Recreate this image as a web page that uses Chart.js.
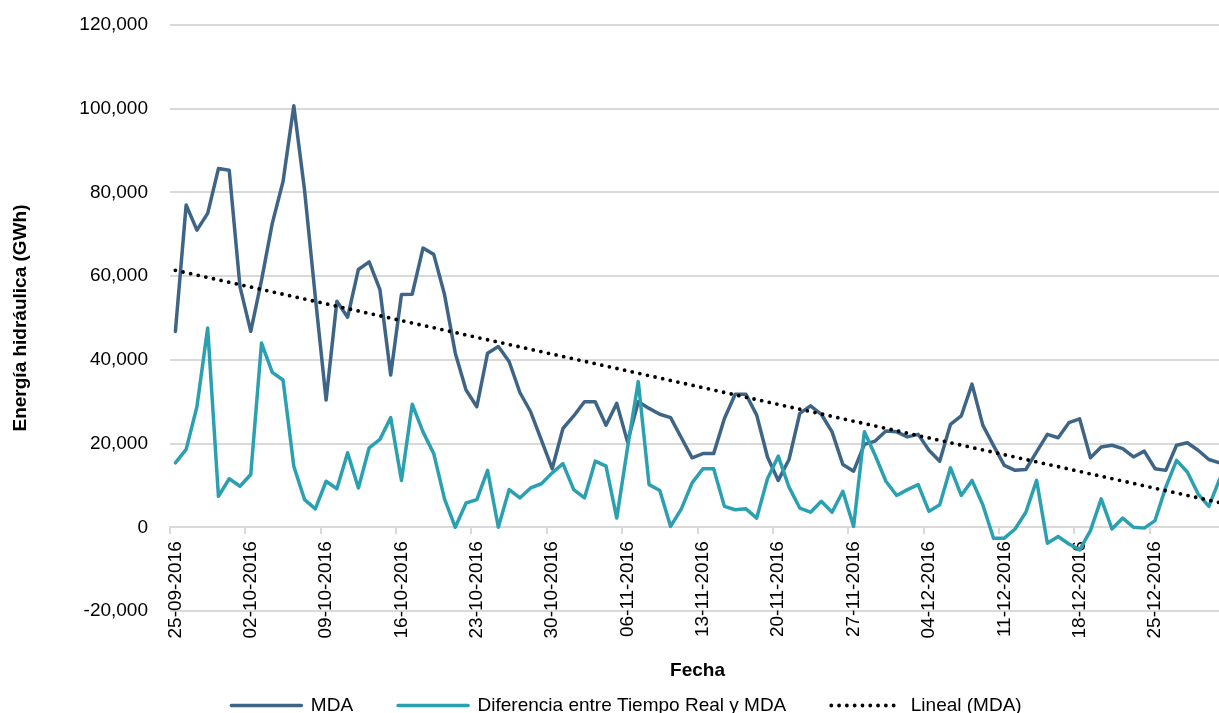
<!DOCTYPE html>
<html>
<head>
<meta charset="utf-8">
<script src="https://cdn.jsdelivr.net/npm/chart.js@4.4.1/dist/chart.umd.min.js"></script>
<style>
  html, body { margin: 0; padding: 0; background: #ffffff; overflow: hidden; }
  #wrap { position: relative; width: 1225px; height: 725px; }
</style>
</head>
<body>
<div id="wrap"><canvas id="c" width="1225" height="725"></canvas></div>
<script>
// ---------- data ----------
const categories = [
  '25-09-2016','26-09-2016','27-09-2016','28-09-2016','29-09-2016','30-09-2016',
  '01-10-2016','02-10-2016','03-10-2016','04-10-2016','05-10-2016','06-10-2016','07-10-2016','08-10-2016','09-10-2016','10-10-2016',
  '11-10-2016','12-10-2016','13-10-2016','14-10-2016','15-10-2016','16-10-2016','17-10-2016','18-10-2016','19-10-2016','20-10-2016',
  '21-10-2016','22-10-2016','23-10-2016','24-10-2016','25-10-2016','26-10-2016','27-10-2016','28-10-2016','29-10-2016','30-10-2016','31-10-2016',
  '01-11-2016','02-11-2016','03-11-2016','04-11-2016','05-11-2016','06-11-2016','07-11-2016','08-11-2016','09-11-2016','10-11-2016',
  '11-11-2016','12-11-2016','13-11-2016','14-11-2016','15-11-2016','16-11-2016','17-11-2016','18-11-2016','19-11-2016','20-11-2016',
  '21-11-2016','22-11-2016','23-11-2016','24-11-2016','25-11-2016','26-11-2016','27-11-2016','28-11-2016','29-11-2016','30-11-2016',
  '01-12-2016','02-12-2016','03-12-2016','04-12-2016','05-12-2016','06-12-2016','07-12-2016','08-12-2016','09-12-2016','10-12-2016',
  '11-12-2016','12-12-2016','13-12-2016','14-12-2016','15-12-2016','16-12-2016','17-12-2016','18-12-2016','19-12-2016','20-12-2016',
  '21-12-2016','22-12-2016','23-12-2016','24-12-2016','25-12-2016','26-12-2016','27-12-2016','28-12-2016','29-12-2016','30-12-2016','31-12-2016'
];

const mdaValues = [
  46800, 77000, 71000, 75000, 85700, 85300, 57500, 46800, 59000, 72600,
  82600, 100700, 80500, 55000, 30400, 54000, 50200, 61600, 63400, 56800,
  36400, 55600, 55700, 66700, 65200, 55600, 41600, 32800, 28800, 41600,
  43200, 39600, 32200, 27600, 20800, 14000, 23600, 26600, 30000, 30000,
  24400, 29600, 20400, 30000, 28400, 27000, 26200, 21400, 16600, 17600,
  17600, 26000, 31800, 31800, 26800, 16800, 11200, 16200, 27200, 29000,
  27000, 22800, 15000, 13400, 19800, 20600, 23000, 22800, 21600, 22200,
  18400, 15800, 24600, 26600, 34200, 24400, 19500, 14800, 13600, 13800,
  18000, 22200, 21400, 25000, 25900, 16600, 19200, 19600, 18800, 16800,
  18200, 14000, 13600, 19600, 20200, 18400, 16200, 15400
];

const diffValues = [
  15400, 18600, 28800, 47600, 7400, 11600, 9800, 12600, 44000, 37000,
  35200, 14600, 6600, 4400, 11000, 9200, 17800, 9400, 19000, 21000,
  26200, 11200, 29400, 22800, 17600, 6800, 0, 5800, 6600, 13600,
  0, 9000, 7000, 9400, 10400, 13000, 15200, 9000, 7000, 15800,
  14600, 2200, 19000, 34800, 10200, 8800, 200, 4400, 10600, 14000,
  14000, 5000, 4200, 4400, 2200, 11600, 17000, 9600, 4600, 3600,
  6200, 3600, 8600, 200, 22800, 17200, 11000, 7600, 9000, 10200,
  3800, 5400, 14200, 7600, 11200, 5400, -2600, -2600, -400, 3600,
  11200, -3800, -2200, -4000, -5400, -800, 6800, -400, 2200, 0,
  -200, 1600, 9600, 16000, 13200, 8000, 5000, 11500
];

// trend line (Lineal MDA): values read at first and last date
const trendStart = 61400;
const trendEnd = 5900;

const yTicks = { min: -20000, max: 120000, step: 20000 };
const seriesNames = ['MDA', 'Diferencia entre Tiempo Real y MDA', 'Lineal (MDA)'];
const axisTitles = { x: 'Fecha', y: 'Energía hidráulica (GWh)' };
const labelEvery = 7;

// ---------- font selection ----------
function fontAvailable(name) {
  const ctx = document.createElement('canvas').getContext('2d');
  const s = 'abcdefghijklmnopqrstuvwxyz 0123456789 ABCDEFGHIJ';
  return ['monospace', 'serif'].some(fb => {
    ctx.font = '40px ' + fb; const a = ctx.measureText(s).width;
    ctx.font = '40px "' + name + '", ' + fb; const b = ctx.measureText(s).width;
    return Math.abs(a - b) > 0.5;
  });
}
const candidates = ['Liberation Sans Narrow', 'Arial Narrow', 'Nimbus Sans Narrow', 'Liberation Sans'];
let family = 'Liberation Sans';
for (const f of candidates) { if (fontAvailable(f)) { family = f; break; } }
const narrow = /Narrow/.test(family);
const fs = narrow ? 23 : 19;
const fontStack = '"' + family + '", "Liberation Sans", Arial, sans-serif';

Chart.defaults.font.family = fontStack;
Chart.defaults.color = '#000000';

// ---------- layout constants ----------
const canvasH = 725;
const plotBottom = 611;          // pixel of the lowest gridline
const legendPad = 45;
const legendH = fs + legendPad + 10;
const xTitleCenter = 671;

// ---------- chart ----------
const trendData = categories.map((_, i) => i === 0 ? trendStart : (i === categories.length - 1 ? trendEnd : null));
const gridGrey = '#d9d9d9';
const zeroPad = s => { s.paddingLeft = 0; s.paddingRight = 0; s.paddingTop = 0; s.paddingBottom = 0; };

new Chart(document.getElementById('c'), {
  type: 'line',
  data: {
    labels: categories,
    datasets: [
      {
        label: seriesNames[0], data: mdaValues,
        borderColor: '#3e6585', backgroundColor: '#3e6585',
        borderWidth: 3.5, pointRadius: 0, tension: 0,
        borderJoinStyle: 'round', borderCapStyle: 'round', order: 2
      },
      {
        label: seriesNames[1], data: diffValues,
        borderColor: '#2ba0b0', backgroundColor: '#2ba0b0',
        borderWidth: 3.5, pointRadius: 0, tension: 0,
        borderJoinStyle: 'round', borderCapStyle: 'round', order: 1
      },
      {
        label: seriesNames[2], data: trendData, spanGaps: true,
        borderColor: '#000000', backgroundColor: '#000000',
        borderWidth: 3.8, borderDash: [0, 7.8], borderCapStyle: 'round',
        pointRadius: 0, tension: 0, order: 0
      }
    ]
  },
  options: {
    responsive: false,
    animation: false,
    events: [],
    layout: { padding: { left: 28, right: 0, top: 25, bottom: 0 } },
    plugins: {
      legend: {
        position: 'bottom',
        labels: {
          usePointStyle: true,
          pointStyle: 'line',
          pointStyleWidth: 70,
          padding: legendPad,
          font: { size: fs, family: fontStack },
          color: '#000000',
          sort: (a, b) => a.datasetIndex - b.datasetIndex,
          generateLabels: chart => {
            const items = Chart.defaults.plugins.legend.labels.generateLabels(chart);
            items.forEach(it => {
              const ds = chart.data.datasets[it.datasetIndex];
              it.lineDash = ds.borderDash || [];
              it.lineCap = ds.borderCapStyle || 'butt';
              it.lineWidth = ds.borderWidth;
              it.strokeStyle = ds.borderColor;
              it.fillStyle = ds.borderColor;
              it.pointStyle = 'line';
            });
            return items;
          }
        }
      },
      tooltip: { enabled: false }
    },
    scales: {
      y: {
        min: yTicks.min, max: yTicks.max,
        afterFit: s => { s.width = 142; zeroPad(s); },
        ticks: {
          stepSize: yTicks.step,
          padding: 22,
          font: { size: fs },
          color: '#000000',
          callback: v => Number(v).toLocaleString('en-US')
        },
        grid: { color: gridGrey, lineWidth: 2, drawTicks: false },
        border: { display: false },
        title: {
          display: true, text: axisTitles.y,
          font: { size: fs, weight: 'bold' }, color: '#000000',
          padding: { top: -19, bottom: 0 }
        }
      },
      x: {
        type: 'category',
        position: { y: 0 },
        offset: true,
        afterFit: zeroPad,
        ticks: {
          autoSkip: false, maxRotation: 90, minRotation: 90, padding: 8,
          font: { size: fs }, color: '#000000',
          callback: function (v, i) { return i % labelEvery === 0 ? this.getLabelForValue(v) : ''; }
        },
        grid: {
          offset: true, drawOnChartArea: false, drawTicks: true, tickLength: 6,
          lineWidth: 2,
          color: c => (c.index !== undefined && c.index % labelEvery === 0) ? gridGrey : 'rgba(0,0,0,0)',
          tickColor: c => (c.index !== undefined && c.index % labelEvery === 0) ? gridGrey : 'rgba(0,0,0,0)'
        },
        border: { display: true, color: gridGrey, width: 2 }
      },
      x2: {
        type: 'category',
        position: 'bottom',
        labels: categories,
        afterFit: s => { s.height = canvasH - plotBottom - legendH; zeroPad(s); },
        ticks: { display: false },
        grid: { display: false, drawTicks: false },
        border: { display: false },
        title: {
          display: true, text: axisTitles.x,
          font: { size: fs, weight: 'bold' }, color: '#000000',
          padding: { top: 0, bottom: (canvasH - legendH) - xTitleCenter - 0.6 * fs }
        }
      }
    }
  }
});
</script>
</body>
</html>
